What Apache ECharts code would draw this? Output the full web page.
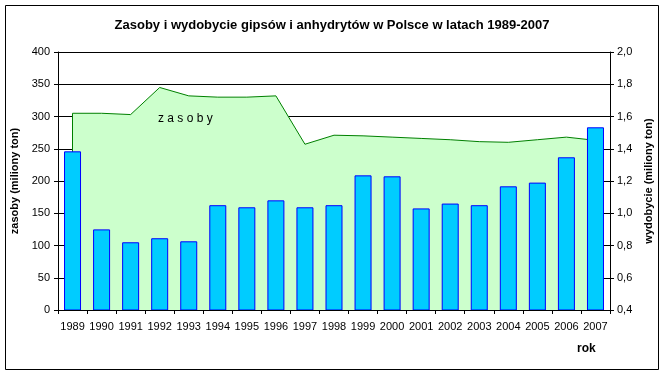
<!DOCTYPE html>
<html><head><meta charset="utf-8">
<script src="https://cdn.jsdelivr.net/npm/echarts@6/dist/echarts.min.js"></script>
<style>html,body{margin:0;padding:0;background:#fff}#c{width:664px;height:375px}</style>
</head><body><div id="c"></div>
<script>
const years = ['1989','1990','1991','1992','1993','1994','1995','1996','1997','1998','1999','2000','2001','2002','2003','2004','2005','2006','2007'];
const zasoby = [305,305,303,345,332,330,330,332,257,271,270,268,266,264,261,260,264,268,263];
const wydobycie = [1.384,0.90,0.82,0.845,0.826,1.05,1.037,1.08,1.037,1.05,1.235,1.229,1.03,1.06,1.05,1.167,1.19,1.347,1.533];
const leftTicks = {min:0, max:400, interval:50};
const rightTicks = {min:0.4, max:2.0, interval:0.2};

const chart = echarts.init(document.getElementById('c'), null, {renderer:'canvas'});
const font = 'Liberation Sans, Arial, sans-serif';
chart.setOption({
  animation:false,
  backgroundColor:'#fff',
  title:{text:'Zasoby i wydobycie gipsów i anhydrytów w Polsce w latach 1989-2007',left:'center',top:14,
    textStyle:{fontFamily:font,fontSize:13,fontWeight:'bold',color:'#000'}},
  grid:{left:58,right:54,top:52,bottom:65},
  xAxis:{type:'category',data:years,boundaryGap:true,z:10,
    axisLine:{lineStyle:{color:'#000',width:1}},
    axisTick:{show:true,length:4,interval:0,lineStyle:{color:'#000'}},
    axisLabel:{interval:0,color:'#000',fontFamily:font,fontSize:11,margin:11}},
  yAxis:[
    {type:'value',min:leftTicks.min,max:leftTicks.max,interval:leftTicks.interval,
     name:'zasoby (miliony ton)',nameLocation:'middle',nameRotate:90,nameGap:38,
     nameTextStyle:{fontFamily:font,fontSize:11,fontWeight:'bold',color:'#000'},
     axisLine:{show:true,lineStyle:{color:'#000'}},
     axisTick:{show:true,length:4,lineStyle:{color:'#000'}},
     axisLabel:{color:'#000',fontFamily:font,fontSize:11,margin:8},
     splitLine:{show:true,lineStyle:{color:'#000',width:1}}},
    {type:'value',min:rightTicks.min,max:rightTicks.max,interval:rightTicks.interval,position:'right',
     name:'wydobycie (miliony ton)',nameLocation:'middle',nameRotate:90,nameGap:33,
     nameTextStyle:{fontFamily:font,fontSize:11,fontWeight:'bold',color:'#000'},
     axisLine:{show:true,lineStyle:{color:'#000'}},
     axisTick:{show:true,length:4,lineStyle:{color:'#000'}},
     axisLabel:{color:'#000',fontFamily:font,fontSize:11,margin:7,formatter:v=>v.toFixed(1).replace('.',',')},
     splitLine:{show:false}}
  ],
  series:[
    {name:'zasoby',type:'line',data:zasoby,yAxisIndex:0,symbol:'none',smooth:false,z:2,
     lineStyle:{color:'#008000',width:1},areaStyle:{color:'#CCFFCC',opacity:1},
     markLine:{silent:true,symbol:'none',label:{show:false},lineStyle:{color:'#008000',width:1,type:'solid'},
       data:[[{coord:[0,zasoby[0]]},{coord:[0,0]}]]}},
    {name:'wydobycie',type:'bar',data:wydobycie,yAxisIndex:1,barWidth:17,z:5,
     itemStyle:{color:'#00CCFF',borderColor:'#0000FF',borderWidth:1}}
  ],
  graphic:[
    {type:'rect',z:100,shape:{x:5.5,y:5.5,width:653,height:364},style:{fill:null,stroke:'#000',lineWidth:1},silent:true},
    {type:'text',z:100,left:158,top:113,style:{text:'z a s o b y',font:'12px '+font,fill:'#000'}},
    {type:'text',z:100,left:577,top:343,style:{text:'rok',font:'bold 12px '+font,fill:'#000'}}
  ]
});
</script></body></html>
